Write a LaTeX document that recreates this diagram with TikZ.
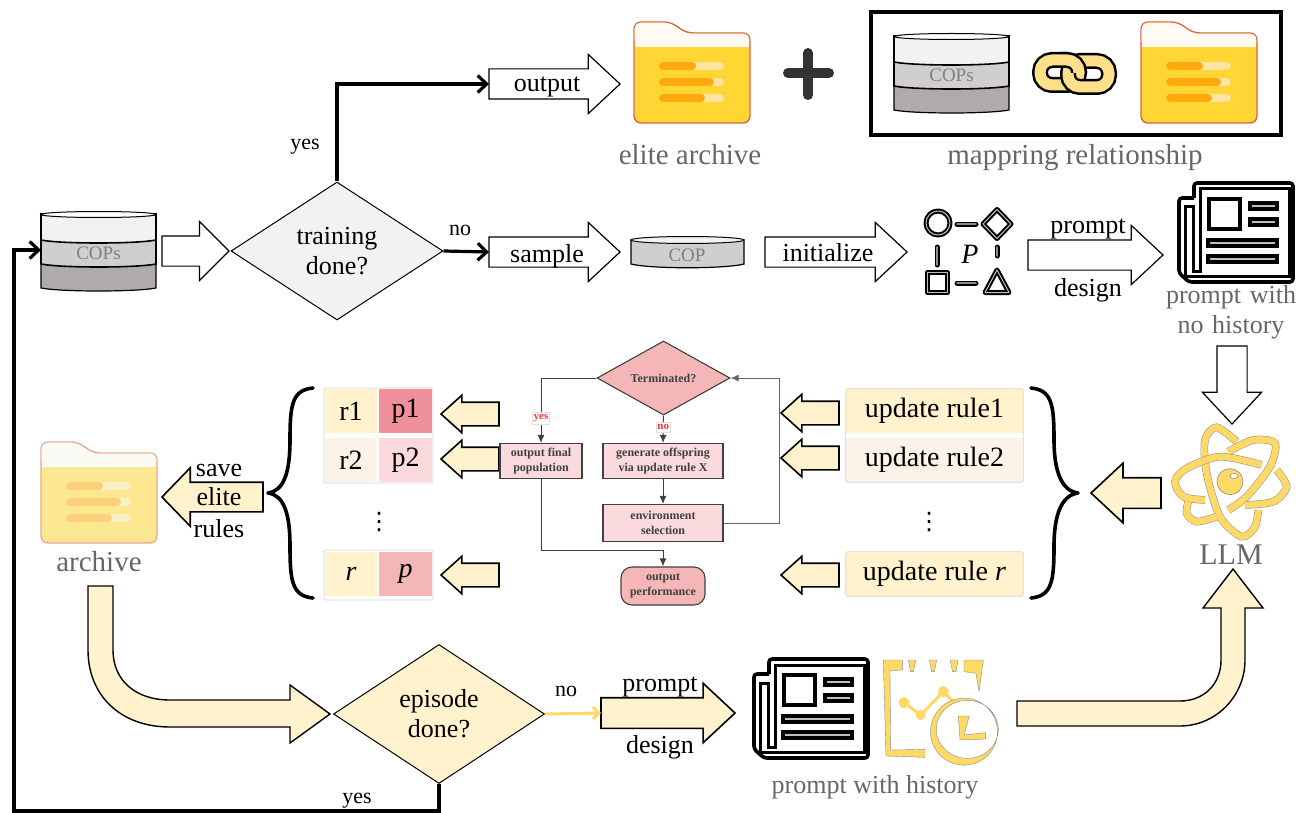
\documentclass[tikz,border=0pt]{standalone}
\usepackage{fontspec}
\setmainfont{Liberation Serif}
\newfontfamily\symfont{DejaVu Sans}
\usetikzlibrary{arrows.meta,shapes.geometric,shapes.arrows,positioning}
\definecolor{creamfill}{HTML}{FFF2CC}
\definecolor{softcream}{HTML}{FBF3E8}
\definecolor{goldicon}{HTML}{FFD966}
\definecolor{pinkstrong}{HTML}{F0909C}
\definecolor{pinksoft}{HTML}{FADADD}
\definecolor{pinkmid}{HTML}{F4B6B6}
\definecolor{textgray}{HTML}{666666}
\definecolor{flowgray}{HTML}{404040}
\definecolor{folderline}{HTML}{D9634A}
\definecolor{folderhead}{HTML}{FFFBF2}
\definecolor{folderbody}{HTML}{FFD633}
\definecolor{folderbar}{HTML}{FFE3A0}
\definecolor{folderfill}{HTML}{FFA90F}
\definecolor{fadeline}{HTML}{E8A898}
\definecolor{fadehead}{HTML}{FCFAF4}
\definecolor{fadebody}{HTML}{FDE892}
\definecolor{fadebar}{HTML}{FCEFC8}
\definecolor{fadefill}{HTML}{FCCF7A}
\definecolor{layertop}{HTML}{F2F2F2}
\definecolor{layermid}{HTML}{D0CECE}
\definecolor{layerlow}{HTML}{AFABAB}
\definecolor{chaingold}{HTML}{FFE08A}
\tikzset{
  flowarrow/.style={single arrow, draw=black, fill=white, line width=1.2pt, inner xsep=0pt, inner ysep=14.5pt, outer sep=0pt,
    minimum height=131pt, minimum width=58pt, single arrow head extend=14.5pt,
    single arrow tip angle=86, single arrow head indent=0pt, anchor=tip},
  creamarrow/.style={flowarrow, fill=creamfill, line width=1.6pt},
  smallarrow/.style={creamarrow, minimum height=58pt, inner ysep=11pt, minimum width=36pt, single arrow head extend=7pt,
    single arrow tip angle=84, shape border rotate=180},
  lbl/.style={font=\fontsize{26}{30}\selectfont, inner sep=0pt, align=center},
  graylbl/.style={lbl, text=textgray},
  capt/.style={graylbl, font=\fontsize{29}{32}\selectfont},
  vdotslbl/.style={inner sep=0pt, font=\symfont\fontsize{24}{24}\selectfont},
  cell/.style={inner sep=0pt, minimum height=44pt, font=\fontsize{28}{30}\selectfont},
  bigdiamond/.style={diamond, draw=black, line width=1pt, inner sep=0pt, aspect=1.5,
    font=\fontsize{26}{30}\selectfont, align=center},
  mainline/.style={line width=3.2pt, -{Straight Barb[length=9pt,width=17pt,line width=3.2pt]}},
  flowbox/.style={draw=flowgray, line width=1.1pt, fill=pinksoft, text=flowgray, align=center, inner sep=0pt,
    font=\bfseries\fontsize{12}{15}\selectfont},
  flowline/.style={draw=flowgray, line width=1pt, -{Latex[length=8pt,width=7pt]}},
  redtag/.style={fill=white, draw=black!12, line width=.4pt, text=red!80, inner xsep=1pt, inner ysep=2.5pt,
    font=\bfseries\fontsize{11}{11}\selectfont},
  framebox/.style={draw=black!18, line width=.7pt, rounded corners=1.5pt},
  brace/.style={line width=3.6pt, line cap=round, line join=round},
  iconline/.style={double=black!25, double distance=1pt, line width=2pt, line join=round},
  orbit/.style={double=goldicon, double distance=6.6pt, draw=black!45, line width=.5pt},
  chainedge/.style={line width=16pt, rounded corners=12pt},
  chainband/.style={line width=11pt, draw=chaingold, rounded corners=12pt},
  pics/folderpic/.style n args={5}{code={
    \draw[line width=1.4pt, draw=#1, fill=#3, rounded corners=7pt] (0,25) -- (0,0) -- (37,0) -- (52,11) -- (116,11) -- (116,101) -- (0,101) -- cycle;
    \fill[#2, rounded corners=6pt] (.7,25) -- (.7,.7) -- (36,.7) -- (52,11.7) -- (115.3,11.7) -- (115.3,25) -- cycle;
    \fill[#2] (.7,15) rectangle (115.3,25);
    \foreach \ypos/\barlen in {44/33,60/51,76/42} {
      \draw[#4, line width=8pt, line cap=round] (29,\ypos) -- (86,\ypos);
      \draw[#5, line width=8pt, line cap=round] (29,\ypos) -- (25+\barlen,\ypos);
    }
  }},
  pics/copspic/.style={code={
    \draw[line width=1.2pt, fill=layerlow] (0,53) -- (0,77) .. controls (20,81) and (95,81) .. (115,77) -- (115,53) -- cycle;
    \draw[line width=1.6pt, fill=layermid] (0,29) -- (0,53) .. controls (20,57) and (95,57) .. (115,53) -- (115,29) -- cycle;
    \draw[line width=1.6pt, fill=layertop] (0,3) -- (0,29) .. controls (20,33) and (95,33) .. (115,29) -- (115,3) -- cycle;
    \draw[line width=1pt, fill=white] (57.5,3.5) ellipse (57.5pt and 3pt);
    \node[text=black!50, font=\fontsize{19}{20}\selectfont, inner sep=0pt] at (57.5,42) {COPs};
  }},
  pics/paperpic/.style={code={
    \draw[line width=3.6pt, rounded corners=3pt, line join=round] (17,17) -- (17,2) -- (116,2) -- (116,101) -- (12,101) -- (2,92) -- (2,17) -- (17,17);
    \draw[line width=3pt, line join=miter] (23,90) -- (23,8) -- (112,8) -- (112,95) -- (8,95) -- (8,26) -- (16,26) -- (16,90) -- cycle;
    \draw[line width=3.4pt] (32,18) rectangle (63,48);
    \foreach \ya/\yb/\xb in {22/28/100,38/44/100,59/65/100,75/81/100} {
      \pgfmathsetmacro\xa{\ya<50 ? 73 : 31}
      \draw[line width=3.2pt, fill=black!25] (\xa,\ya) rectangle (\xb,\yb);
    }
  }},
}
\begin{document}
\begin{tikzpicture}[x=1pt,y=-1pt]
  \useasboundingbox (0,0) rectangle (1303,813);
  % top row
  \pic at (41,211) {copspic};
  \coordinate (copsin) at (41,250);
  \node[flowarrow, minimum height=67pt, single arrow tip angle=90] (arrowcops) at (229,251) {};
  \node[bigdiamond, fill=black!5, minimum width=212pt, minimum height=138pt] (trainingdone) at (337,251) {training\\done?};
  \node[flowarrow] (arrowoutput) at (620,84) {};
  \node[lbl] (textoutput) at (547,87) {output};
  \draw[mainline] (trainingdone.north) |- (arrowoutput.tail);
  \node[lbl, font=\fontsize{22}{24}\selectfont] (textyes) at (305,147) {yes};
  \node[flowarrow] (arrowsample) at (620,252) {};
  \node[lbl] (textsample) at (547,256) {sample};
  \draw[mainline] (trainingdone.east) -- (arrowsample.tail);
  \node[lbl, font=\fontsize{22}{24}\selectfont] (textno) at (460,230) {no};
  % single COP
  \draw[line width=1.2pt, fill=layermid] (631,240) -- (631,264) .. controls (650,269) and (725,269) .. (744,264) -- (744,240) -- cycle;
  \draw[line width=1pt, fill=layertop] (687.5,240) ellipse (56.5pt and 3.5pt);
  \node[text=black!50, font=\fontsize{19}{20}\selectfont, inner sep=0pt] (textcop) at (687,255) {COP};
  \node[flowarrow, minimum height=142pt] (arrowinit) at (907,252) {};
  \node[lbl] (textinit) at (828,253) {initialize};
  % population icon
  \draw[iconline] (938,223) circle (12pt);
  \draw[iconline] (997,209.5) -- (1011,224) -- (997,238.5) -- (983,224) -- cycle;
  \draw[iconline] (927.5,272.5) rectangle (947.5,292.5);
  \draw[iconline] (997,270) -- (1009,292.5) -- (985,292.5) -- cycle;
  \foreach \xa/\ya/\xb/\yb in {957/224/976/224,957/283/976/283,937/247/937/265,997/247/997/256} {
    \draw[line width=5pt, line cap=round] (\xa,\ya) -- (\xb,\yb);
    \draw[line width=1.4pt, black!45, line cap=round] (\xa,\ya) -- (\xb,\yb);
  }
  \node[lbl, font=\itshape\fontsize{28}{30}\selectfont] (textp) at (970,254) {P};
  \node[flowarrow, minimum height=135pt] (arrowprompta) at (1163,255) {};
  \node[lbl] (textprompta) at (1088,229) {prompt};
  \node[lbl] (textdesigna) at (1088,290) {design};
  \pic at (1177,181) {paperpic};
  \node[graylbl, text width=140pt] (textnohist) at (1231,312) {prompt with\\no history};
  % elite archive and mapping box
  \pic at (634,22) {folderpic={folderline}{folderhead}{folderbody}{folderbar}{folderfill}};
  \node[capt] (textelite) at (690,155) {elite archive};
  \draw[line width=10pt, line cap=round, black!80] (808,53) -- (808,95) (788,73) -- (829,73);
  \draw[line width=3.6pt] (871,12) rectangle (1281,135);
  \pic at (894,33) {copspic};
  % chain icon
  \draw[chainedge] (1040,60) rectangle (1079,85);
  \draw[chainband] (1040,60) rectangle (1079,85);
  \draw[chainedge] (1068,61) rectangle (1109,87);
  \draw[chainband] (1068,61) rectangle (1109,87);
  \begin{scope}
    \clip (1060,48) rectangle (1090,73);
    \draw[chainedge] (1040,60) rectangle (1079,85);
    \draw[chainband] (1040,60) rectangle (1079,85);
  \end{scope}
  \pic at (1141,22) {folderpic={folderline}{folderhead}{folderbody}{folderbar}{folderfill}};
  \node[capt] (textmapping) at (1075,158) {mappring relationship};
  % down arrow and LLM
  \node[flowarrow, minimum height=78pt, inner xsep=14.5pt, inner ysep=0pt, shape border rotate=270] (arrowdown) at (1232,424) {};
  \begin{scope}[shift={(1020,340)},x=.3333pt,y=-.3333pt]
    \draw[orbit] plot[smooth] coordinates {(650,305) (590,262) (555,300) (560,400) (600,530) (665,590) (705,560) (715,510)};
    \draw[orbit] plot[smooth] coordinates {(725,375) (600,350) (500,385) (465,425) (490,470) (555,480)};
    \draw[orbit] plot[smooth] coordinates {(625,335) (700,300) (765,310) (750,380) (680,470) (625,510)};
    \draw[orbit] plot[smooth] coordinates {(675,495) (760,485) (800,440) (770,390)};
    \draw[orbit] plot[smooth] coordinates {(505,485) (500,520) (530,545) (590,530)};
    \fill[goldicon, draw=black!45, line width=.6pt] (630,425) circle (13pt);
    \fill[white, draw=black!45, line width=.6pt] (642,408) ellipse (4pt and 2.5pt);
  \end{scope}
  \node[capt, font=\fontsize{30}{32}\selectfont] (textllm) at (1231,555) {LLM};
  \node[creamarrow, minimum height=70pt, shape border rotate=180] (arrowllm) at (1091,493) {};
  % right brace and rules
  \draw[brace] (1031,388) .. controls (1052,390) and (1054,405) .. (1054,440) .. controls (1054,472) and (1062,491) .. (1078,493) .. controls (1062,495) and (1054,514) .. (1054,546) .. controls (1054,581) and (1052,596) .. (1031,598);
  \node[cell, fill=creamfill, minimum width=177pt] (ruleone) at (934.5,411) {\raisebox{-2pt}{update rule1}};
  \node[cell, fill=softcream, minimum width=177pt] (ruletwo) at (934.5,460) {\raisebox{-1pt}{update rule2}};
  \node[cell, fill=creamfill, minimum width=177pt] (ruler) at (934.5,574) {update rule \textit{r}};
  \draw[framebox] (ruleone.north west) rectangle (ruletwo.south east);
  \draw[framebox] (ruler.north west) rectangle (ruler.south east);
  \node[vdotslbl] (dotsright) at (929,522) {⋮};
  \node[smallarrow] (arrowrone) at (781,413) {};
  \node[smallarrow] (arrowrtwo) at (781,458) {};
  \node[smallarrow] (arrowrr) at (781,575) {};
  % left brace and scores
  \draw[brace] (313,388) .. controls (292,390) and (290,405) .. (290,440) .. controls (290,472) and (284,491) .. (268,493) .. controls (284,495) and (290,514) .. (290,546) .. controls (290,581) and (292,596) .. (313,598);
  \node[cell, fill=creamfill, minimum width=52pt] (cellra) at (351,411) {\raisebox{-2pt}{r1}};
  \node[cell, fill=pinkstrong, minimum width=53pt] (cellpa) at (405.5,411) {\raisebox{-2pt}{p1}};
  \node[cell, fill=softcream, minimum width=52pt] (cellrb) at (351,460) {r2};
  \node[cell, fill=pinksoft, minimum width=53pt] (cellpb) at (405.5,460) {p2};
  \node[cell, fill=creamfill, minimum width=52pt] (cellr) at (351,574) {\textit{r}};
  \node[cell, fill=pinkmid, minimum width=53pt] (cellp) at (405.5,574) {\textit{p}};
  \draw[framebox] (324,388) rectangle (433,483);
  \draw[framebox] (324,550) rectangle (433,600);
  \node[vdotslbl] (dotsleft) at (379,522) {⋮};
  \node[smallarrow] (arrowla) at (441,414) {};
  \node[smallarrow] (arrowlb) at (441,459) {};
  \node[smallarrow] (arrowlc) at (441,575) {};
  % inner flowchart
  \node[diamond, draw=flowgray, line width=1.1pt, fill=pinkmid, minimum width=133pt, minimum height=66pt, inner sep=0pt, text=flowgray, font=\bfseries\fontsize{12}{13}\selectfont] (terminated) at (663.5,378) {Terminated?};
  \node[flowbox, minimum width=82pt, minimum height=35pt] (finalpop) at (541,461) {output final\\population};
  \node[flowbox, minimum width=120pt, minimum height=35pt] (offspring) at (663,461) {generate offspring\\via update rule X};
  \node[flowbox, minimum width=120pt, minimum height=37pt] (envsel) at (663,523) {environment\\selection};
  \node[flowbox, fill=pinkmid, minimum width=84pt, minimum height=38pt, rounded corners=11pt] (perform) at (663,586) {output\\performance};
  \draw[flowline] (terminated.west) -| (finalpop.north) node[redtag, pos=.81] {yes};
  \draw[flowline] (terminated.south) -- (offspring.north) node[redtag, pos=.42] {no};
  \draw[flowline] (offspring) -- (envsel);
  \draw[flowline, draw=flowgray!80] (envsel.east) -- ++(56,0) |- (terminated.east);
  \draw[flowline] (finalpop.south) |- (541,550) -| (perform.north);
  % archive and save arrow
  \pic at (41,442) {folderpic={fadeline}{fadehead}{fadebody}{fadebar}{fadefill}};
  \node[capt, font=\fontsize{29}{32}\selectfont] (textarchive) at (99,562) {archive};
  \node[creamarrow, minimum height=101pt, inner ysep=14pt, single arrow tip angle=92, shape border rotate=180] (arrowsave) at (162,497) {};
  \node[lbl] (textsave) at (219,470) {save};
  \node[lbl] (textsaveb) at (219,497) {elite};
  \node[lbl] (textsavec) at (219,529) {rules};
  % lower flow
  \draw[line width=1.4pt, fill=creamfill, line join=miter] (88,586) -- (113,586) -- (113,650) .. controls (113,680) and (135,700) .. (170,700) -- (290,700) -- (290,685) -- (330,714) -- (290,743) -- (290,727) -- (170,727) .. controls (120,727) and (88,695) .. (88,650) -- cycle;
  \node[bigdiamond, fill=creamfill, minimum width=211pt, minimum height=139pt] (episodedone) at (439,714) {episode\\done?};
  \coordinate (cornerbl) at (14,811);
  \draw[mainline] (episodedone.south) |- (cornerbl) |- (copsin);
  \node[lbl, font=\fontsize{22}{24}\selectfont] (textyesb) at (357,801) {yes};
  \node[creamarrow, minimum height=134pt] (arrowpromptb) at (735,713) {};
  \draw[goldicon, line width=3pt, -{Straight Barb[length=6pt,width=12pt,line width=3pt]}] (episodedone.east) -- (arrowpromptb.tail);
  \node[lbl, font=\fontsize{22}{24}\selectfont] (textnob) at (566,691) {no};
  \node[lbl] (textpromptb) at (660,687) {prompt};
  \node[lbl] (textdesignb) at (660,747) {design};
  \pic at (752,657) {paperpic};
  % history icon
  \begin{scope}[shift={(740,640)},x=.3333pt,y=-.3333pt]
    \draw[fill=goldicon, draw=black!45, line width=.4pt] (430,60) -- (487,60) -- (487,90) -- (450,92) -- (452,330) -- (555,328) -- (555,352) -- (438,348) -- cycle;
    \draw[fill=goldicon, draw=black!45, line width=.4pt] (505,60) -- (528,60) -- (520,95) -- (512,95) -- cycle;
    \draw[fill=goldicon, draw=black!45, line width=.4pt] (568,60) -- (590,60) -- (583,95) -- (575,95) -- cycle;
    \draw[fill=goldicon, draw=black!45, line width=.4pt] (630,60) -- (654,60) -- (648,95) -- (638,95) -- cycle;
    \draw[fill=goldicon, draw=black!45, line width=.4pt] (672,60) -- (730,60) -- (717,155) -- (708,100) -- (672,95) -- cycle;
    \draw[goldicon, line width=3pt] (492,188) -- (542,225) -- (610,155) -- (640,185);
    \fill[goldicon] (492,188) circle (5.5pt) (542,225) circle (5pt) (610,155) circle (5.5pt);
    \draw[even odd rule, fill=goldicon, draw=black!45, line width=.4pt] (672,275) circle (33.5pt) (682,268) ellipse (31pt and 29pt);
    \draw[fill=goldicon, draw=black!45, line width=.4pt] (655,228) -- (688,228) -- (672,285) -- (736,278) -- (736,297) -- (660,300) -- cycle;
  \end{scope}
  \node[graylbl] (texthist) at (875,787) {prompt with history};
  \draw[line width=1.4pt, fill=creamfill, line join=miter] (1017,701) -- (1180,701) .. controls (1204,701) and (1221,684) .. (1221,660) -- (1221,608) -- (1203,608) -- (1233,569) -- (1263,608) -- (1245,608) -- (1245,660) .. controls (1245,696) and (1216,726) .. (1180,726) -- (1017,726) -- cycle;
\end{tikzpicture}
\end{document}
